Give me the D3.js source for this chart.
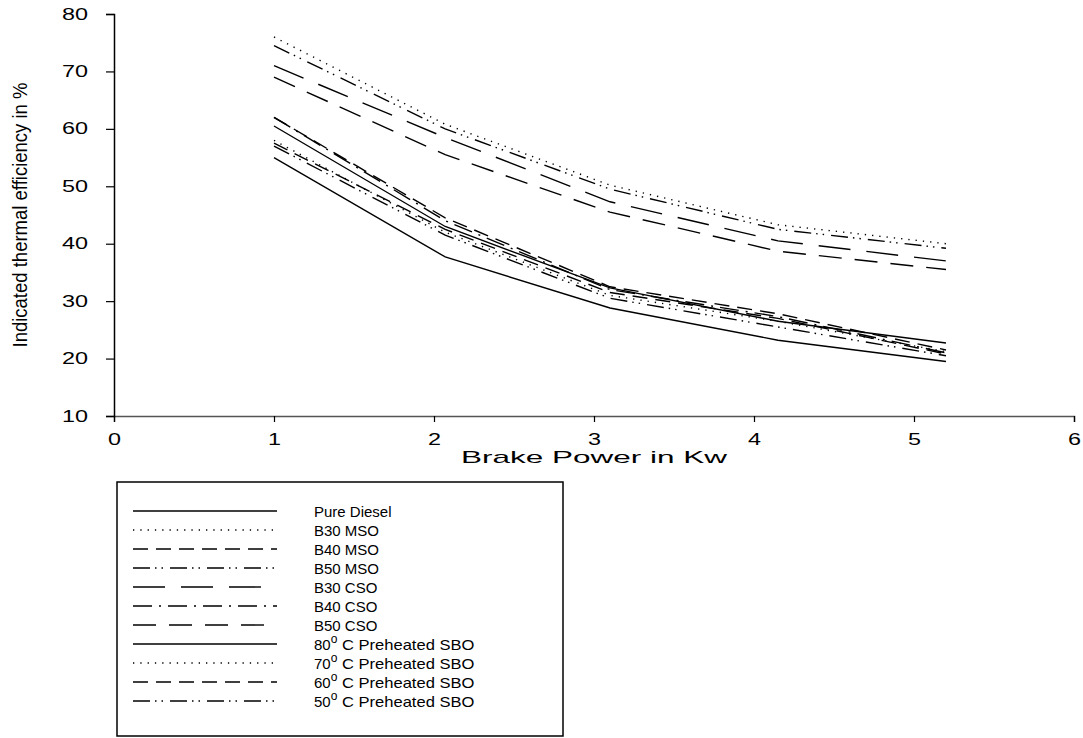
<!DOCTYPE html>
<html>
<head>
<meta charset="utf-8">
<script src="https://d3js.org/d3.v7.min.js"></script>
<style>
    body { margin: 0; background: white; }
    svg { font-family: "Liberation Sans", Arial, sans-serif; }
    .tick text { font-size: 16px; fill: black; }
</style>
</head>
<body>
<svg id="chart"></svg>
<script>
    let width = 1083,
        height = 738

    // brake power (kW) for each reading
    const brakePower = [1.0, 2.07, 3.1, 4.15, 5.2]

    // indicated thermal efficiency in %
    const pureDiesel = [55, 37.7, 28.8, 23.2, 19.5]
    const b30Mso = [76, 60.8, 50.2, 43.3, 40]
    const b40Mso = [62, 44.5, 32.5, 27.8, 21.5]
    const b50Mso = [74.5, 60, 49.5, 42.5, 39.2]
    const b30Cso = [71, 58.5, 47.3, 40.5, 37]
    const b40Cso = [62, 44, 32, 27.3, 21]
    const b50Cso = [69, 55.5, 45.5, 38.7, 35.5]
    const sbo80 = [60.5, 43, 32.3, 26.5, 22.7]
    const sbo70 = [58, 42, 31, 26.5, 21.2]
    const sbo60 = [57.5, 42.5, 31.5, 27, 20.8]
    const sbo50 = [57, 41.5, 30.5, 25.5, 20.5]

    const xTicks = [0, 1, 2, 3, 4, 5, 6]
    const yTicks = [10, 20, 30, 40, 50, 60, 70, 80]

    // line styles, in legend order
    const series = [
        { name: "Pure Diesel", values: pureDiesel, dash: null },
        { name: "B30 MSO", values: b30Mso, dash: "1.3,6" },
        { name: "B40 MSO", values: b40Mso, dash: "15,8" },
        { name: "B50 MSO", values: b50Mso, dash: "17,5,1.5,5,1.5,7" },
        { name: "B30 CSO", values: b30Cso, dash: "32,16" },
        { name: "B40 CSO", values: b40Cso, dash: "19,7,2,7" },
        { name: "B50 CSO", values: b50Cso, dash: "23,13" },
        { name: "80", sup: true, values: sbo80, dash: null },
        { name: "70", sup: true, values: sbo70, dash: "1.3,6" },
        { name: "60", sup: true, values: sbo60, dash: "15,8" },
        { name: "50", sup: true, values: sbo50, dash: "17,5,1.5,5,1.5,7" }
    ]

    let svg = d3.select("#chart")
        .attr("width", width)
        .attr("height", height)

    let x = d3.scaleLinear().domain([0, 6]).range([114, 1074])
    let y = d3.scaleLinear().domain([10, 80]).range([416, 14])

    // axes
    let xAxis = svg.append("g")
        .attr("transform", "translate(0,416)")
        .call(d3.axisBottom(x).tickValues(xTicks).tickSize(6).tickPadding(12).tickFormat(d3.format("d")))
    xAxis.select(".domain").attr("stroke", "#555").attr("stroke-width", 1.5)
    xAxis.selectAll(".tick line").attr("stroke", "black").attr("stroke-width", 1.2)

    let yAxis = svg.append("g")
        .attr("transform", "translate(114,0)")
        .call(d3.axisLeft(y).tickValues(yTicks).tickSize(8).tickPadding(18).tickFormat(d3.format("d")))
    yAxis.select(".domain").attr("stroke", "black").attr("stroke-width", 1.5)
    yAxis.selectAll(".tick line").attr("stroke", "black").attr("stroke-width", 1.2)

    // the tick labels in the picture are drawn wide
    svg.selectAll(".tick text")
        .attr("textLength", function () { return this.textContent.length * 13 })
        .attr("lengthAdjust", "spacingAndGlyphs")

    // titles
    svg.append("text")
        .attr("x", 594)
        .attr("y", 463)
        .attr("text-anchor", "middle")
        .style("font-size", "17px")
        .attr("textLength", 266)
        .attr("lengthAdjust", "spacingAndGlyphs")
        .text("Brake Power in Kw")

    svg.append("text")
        .attr("transform", "translate(27,215) rotate(-90)")
        .attr("text-anchor", "middle")
        .style("font-family", "'Liberation Sans Narrow', 'Liberation Sans', sans-serif")
        .style("font-size", "21px")
        .attr("textLength", 265)
        .attr("lengthAdjust", "spacingAndGlyphs")
        .text("Indicated thermal efficiency in %")

    // lines
    let line = d3.line()
        .x((d, i) => x(brakePower[i]))
        .y(d => y(d))

    svg.append("g").selectAll("path")
        .data(series)
        .enter()
        .append("path")
        .attr("d", d => line(d.values))
        .attr("fill", "none")
        .attr("stroke", "black")
        .attr("stroke-width", 1.4)
        .attr("stroke-dasharray", d => d.dash)

    // legend
    let legend = svg.append("g")
    legend.append("rect")
        .attr("x", 117)
        .attr("y", 482)
        .attr("width", 446)
        .attr("height", 254)
        .attr("fill", "white")
        .attr("stroke", "black")
        .attr("stroke-width", 1.5)

    let rows = legend.selectAll("g.row")
        .data(series)
        .enter()
        .append("g")
        .attr("class", "row")
        .attr("transform", (d, i) => "translate(0," + (511 + i * 19) + ")")

    rows.append("line")
        .attr("x1", 133)
        .attr("x2", 277)
        .attr("stroke", "black")
        .attr("stroke-width", 1.4)
        .attr("stroke-dasharray", d => d.dash)

    let labels = rows.append("text")
        .attr("x", 314)
        .attr("y", 6)
        .style("font-size", "15px")

    labels.each(function (d) {
        let t = d3.select(this)
        if (d.sup) {
            t.append("tspan").text(d.name)
            t.append("tspan").attr("dy", -7).style("font-size", "12px").text("o")
            t.append("tspan").attr("dy", 7).text(" C Preheated SBO")
                .attr("textLength", 137)
                .attr("lengthAdjust", "spacingAndGlyphs")
        } else {
            t.text(d.name)
        }
    })
</script>
</body>
</html>
